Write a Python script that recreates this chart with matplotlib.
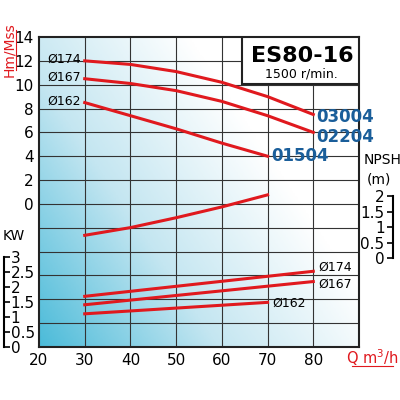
import numpy as np
import matplotlib
matplotlib.use("Agg")
import matplotlib.pyplot as plt
from matplotlib.colors import LinearSegmentedColormap
from matplotlib.patches import Rectangle

plt.rcParams['font.family'] = ['Liberation Sans Narrow', 'DejaVu Sans']

q = [30, 40, 50, 60, 70, 80]
head_174 = [12.0, 11.7, 11.1, 10.2, 9.0, 7.5]
head_167 = [10.5, 10.1, 9.5, 8.6, 7.4, 6.0]
q_162 = [30, 40, 50, 60, 70]
head_162 = [8.5, 7.4, 6.3, 5.1, 4.0]
npsh = [0.74, 0.99, 1.31, 1.66, 2.05]
kw_q = [30, 80]
kw_174 = [1.68, 2.51]
kw_167 = [1.40, 2.17]
kw_162_q = [30, 70]
kw_162 = [1.10, 1.48]

HMIN, HMAX = -12, 14
KW_SCALE = 2.53
NP_SCALE, NP_OFF = 2.59, -4.55
red = "#e0191e"
blue = "#1a5e9a"

fig = plt.figure(figsize=(4, 4), dpi=100)
ax = fig.add_axes([39/400, 1-347/400, 320/400, 310/400])
ax.set_xlim(20, 90)
ax.set_ylim(HMIN, HMAX)

cmap = LinearSegmentedColormap.from_list("bg", ["#4bbbd9", "#c4e6f1", "#ffffff"])
xx, yy = np.meshgrid(np.linspace(0, 1, 200), np.linspace(0, 1, 200))
grad = np.clip(0.85 * xx + 0.55 * yy + 0.05, 0, 1)
ax.imshow(grad, extent=[20, 90, HMIN, HMAX], origin="lower", cmap=cmap, aspect="auto", zorder=0)

for x in range(30, 90, 10):
    ax.axvline(x, color="#333333", lw=0.8, zorder=1)
for y in range(-10, 14, 2):
    ax.axhline(y, color="#333333", lw=0.8, zorder=1)

ax.set_xticks(range(20, 90, 10))
ax.set_yticks(range(HMIN, HMAX + 1, 2))
ax.set_yticklabels([str(v) if v >= 0 else "" for v in range(HMIN, HMAX + 1, 2)])
ax.tick_params(length=0, labelsize=11, pad=4)
for s in ax.spines.values():
    s.set_linewidth(1.5)
    s.set_color("#222222")

lw = 2.2
ax.plot(q, head_174, color=red, lw=lw, zorder=3)
ax.plot(q, head_167, color=red, lw=lw, zorder=3)
ax.plot(q_162, head_162, color=red, lw=lw, zorder=3)
ax.plot(q_162, [v * NP_SCALE + NP_OFF for v in npsh], color=red, lw=lw, zorder=3)
ax.plot(kw_q, [HMIN + v * KW_SCALE for v in kw_174], color=red, lw=lw, zorder=3)
ax.plot(kw_q, [HMIN + v * KW_SCALE for v in kw_167], color=red, lw=lw, zorder=3)
ax.plot(kw_162_q, [HMIN + v * KW_SCALE for v in kw_162], color=red, lw=lw, zorder=3)

for lab, h in [("Ø174", head_174[0]), ("Ø167", head_167[0]), ("Ø162", head_162[0])]:
    ax.text(25.5, h + 0.15, lab, fontsize=9, ha="center", va="center", zorder=4)
ax.text(80.7, head_174[-1] - 0.2, "03004", color=blue, fontsize=12, fontweight="bold", va="center", zorder=4)
ax.text(80.7, head_167[-1] - 0.4, "02204", color=blue, fontsize=12, fontweight="bold", va="center", zorder=4)
ax.text(70.7, head_162[-1], "01504", color=blue, fontsize=12, fontweight="bold", va="center", zorder=4)
ax.text(81, HMIN + kw_174[-1] * KW_SCALE + 0.3, "Ø174", fontsize=9, va="center", zorder=4)
ax.text(81, HMIN + kw_167[-1] * KW_SCALE - 0.2, "Ø167", fontsize=9, va="center", zorder=4)
ax.text(71, HMIN + kw_162[-1] * KW_SCALE - 0.1, "Ø162", fontsize=9, va="center", zorder=4)

ax.add_patch(Rectangle((64.5, 10.1), 25.5, 3.9, fc="white", ec="#222222", lw=1.5, zorder=5))
ax.text(77.5, 12.4, "ES80-16", fontsize=16, fontweight="bold", ha="center", va="center", zorder=6)
ax.text(77.5, 10.9, "1500 r/min.", fontsize=9, ha="center", va="center", zorder=6)

# KW axis
axk = ax.twinx()
axk.set_ylim(0, (HMAX - HMIN) / KW_SCALE)
axk.yaxis.set_ticks_position("right")
axk.spines["right"].set_position(("axes", -0.11))
axk.spines["right"].set_bounds(0, 3)
axk.spines["right"].set_linewidth(1.5)
for s in ["left", "top", "bottom"]:
    axk.spines[s].set_visible(False)
axk.set_yticks([0, 0.5, 1, 1.5, 2, 2.5, 3])
axk.set_yticklabels(["0", "0.5", "1", "1.5", "2", "2.5", "3"])
axk.tick_params(length=4, width=1.2, labelsize=11, pad=1)
axk.text(-0.115, 3.55 / ((HMAX - HMIN) / KW_SCALE), "KW", transform=axk.transAxes, fontsize=10)

# NPSH axis
axn = ax.twinx()
axn.set_ylim((HMIN - NP_OFF) / NP_SCALE, (HMAX - NP_OFF) / NP_SCALE)
axn.yaxis.set_ticks_position("left")
axn.spines["left"].set_position(("axes", 1.106))
axn.spines["left"].set_bounds(0, 2)
axn.spines["left"].set_linewidth(1.5)
for s in ["right", "top", "bottom"]:
    axn.spines[s].set_visible(False)
axn.set_yticks([0, 0.5, 1, 1.5, 2])
axn.set_yticklabels(["0", "0.5", "1", "1.5", "2"])
axn.tick_params(length=4, width=1.2, labelsize=11, pad=2)
fig.text(383/400, 1-160/400, "NPSH", fontsize=10, ha="center", va="center")
fig.text(379/400, 1-180/400, "(m)", fontsize=10, ha="center", va="center")

fig.text(9/400, 1-50/400, "Hm/Mss", color=red, rotation=90, fontsize=10, ha="center", va="center")
fig.add_artist(plt.Line2D([16/400, 16/400], [1-70/400, 1-30/400], color=red, lw=0.8))
fig.text(372/400, 1-358/400, "Q m$^3$/h", color=red, fontsize=10.5, ha="center", va="center")
fig.add_artist(plt.Line2D([352/400, 393/400], [1-366/400, 1-366/400], color=red, lw=0.8))

fig.savefig("out.png", dpi=100)
